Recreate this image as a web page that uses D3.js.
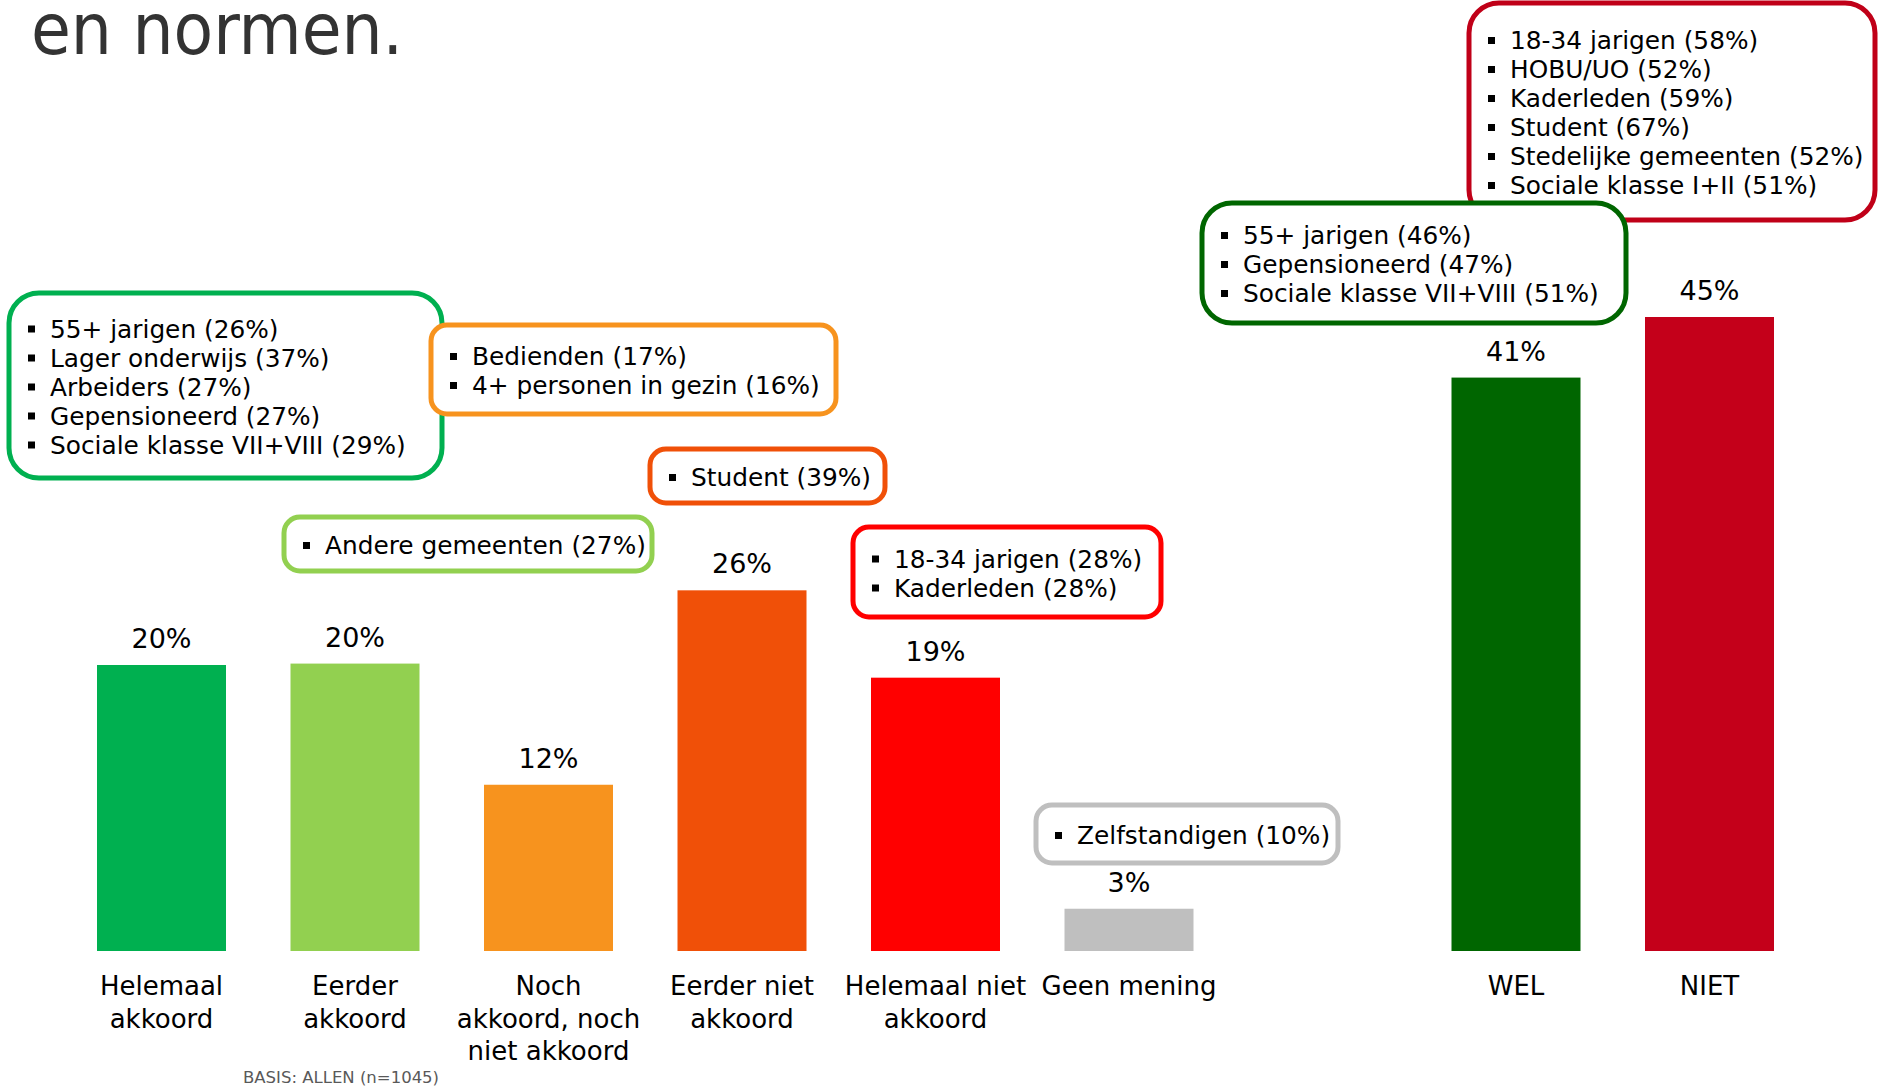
<!DOCTYPE html>
<html>
<head>
<meta charset="utf-8">
<script src="https://cdn.jsdelivr.net/npm/d3@7"></script>
<style>
  body { margin: 0; background: #fff; }
  svg { display: block; font-family: "DejaVu Sans", Verdana, sans-serif; }
</style>
</head>
<body>
<script>
'use strict';

// chart data
const categories = ["Helemaal akkoord", "Eerder akkoord", "Noch akkoord, noch niet akkoord",
  "Eerder niet akkoord", "Helemaal niet akkoord", "Geen mening", "gap", "WEL", "NIET"];
const tickLabels = [["Helemaal", "akkoord"], ["Eerder", "akkoord"], ["Noch", "akkoord, noch", "niet akkoord"],
  ["Eerder niet", "akkoord"], ["Helemaal niet", "akkoord"], ["Geen mening"], [], ["WEL"], ["NIET"]];
const values = [20.3, 20.4, 11.8, 25.6, 19.4, 3.0, null, 40.7, 45.0];
const barColors = ["#00B050", "#92D050", "#F7931E", "#F05008", "#FF0000", "#BFBFBF", "none", "#006600", "#C4001A"];

// callout texts
const calloutHelemaal = ["55+ jarigen (26%)", "Lager onderwijs (37%)", "Arbeiders (27%)", "Gepensioneerd (27%)", "Sociale klasse VII+VIII (29%)"];
const calloutEerder = ["Andere gemeenten (27%)"];
const calloutNoch = ["Bedienden (17%)", "4+ personen in gezin (16%)"];
const calloutEerderNiet = ["Student (39%)"];
const calloutHelemaalNiet = ["18-34 jarigen (28%)", "Kaderleden (28%)"];
const calloutGeen = ["Zelfstandigen (10%)"];
const calloutWel = ["55+ jarigen (46%)", "Gepensioneerd (47%)", "Sociale klasse VII+VIII (51%)"];
const calloutNiet = ["18-34 jarigen (58%)", "HOBU/UO (52%)", "Kaderleden (59%)", "Student (67%)", "Stedelijke gemeenten (52%)", "Sociale klasse I+II (51%)"];

const title = "en normen.";
const basis = "BASIS: ALLEN (n=1045)";

(function () {
  const width = 1878, height = 1088;
  const svg = d3.select('body').append('svg')
    .attr('width', width)
    .attr('height', height);

  // title
  svg.append('text')
    .attr('x', 31)
    .attr('y', 54)
    .style('font-family', '"DejaVu Sans Condensed", "DejaVu Sans", sans-serif')
    .style('font-stretch', 'condensed')
    .style('font-size', '72px')
    .attr('fill', '#333333')
    .text(title);

  // scales
  const x = d3.scaleBand()
    .domain(categories)
    .range([64.75, 1806.25])
    .paddingInner(1 / 3)
    .paddingOuter(1 / 6);

  const y = d3.scaleLinear()
    .domain([0, 45])
    .range([951, 317]);

  const rows = categories.map((c, i) => ({ key: c, value: values[i], color: barColors[i] }))
    .filter(d => d.value !== null);

  // bars
  svg.selectAll('.bar')
    .data(rows)
    .enter()
    .append('rect')
    .attr('class', 'bar')
    .attr('x', d => x(d.key))
    .attr('width', x.bandwidth())
    .attr('y', d => y(d.value))
    .attr('height', d => y(0) - y(d.value))
    .attr('fill', d => d.color);

  // value labels
  svg.selectAll('.val')
    .data(rows)
    .enter()
    .append('text')
    .attr('class', 'val')
    .attr('x', d => x(d.key) + x.bandwidth() / 2)
    .attr('y', d => y(d.value) - 17)
    .attr('text-anchor', 'middle')
    .style('font-size', '27px')
    .attr('fill', '#000')
    .text(d => d3.format('.0f')(d.value) + '%');

  // category axis, multi-line labels
  const xAxis = d3.axisBottom(x).tickSize(0).tickPadding(0).tickFormat('');
  const axisG = svg.append('g')
    .attr('transform', 'translate(0, 951)')
    .call(xAxis);
  axisG.select('.domain').remove();
  axisG.selectAll('.tick text').remove();
  axisG.selectAll('.tick').each(function (d, i) {
    const t = d3.select(this).append('text')
      .attr('text-anchor', 'middle')
      .attr('fill', '#000')
      .style('font-size', '26px')
      .style('font-family', '"DejaVu Sans", Verdana, sans-serif');
    tickLabels[i].forEach((line, j) => {
      t.append('tspan')
        .attr('x', 0)
        .attr('y', 44 + j * 32.5)
        .text(line);
    });
  });

  // callout boxes: [x, y, w, h] with outline colour
  const callouts = [
    { lines: calloutNiet, box: [1469, 3, 406, 217], color: "#C00018" },
    { lines: calloutWel, box: [1202, 203, 424, 120], color: "#006600" },
    { lines: calloutHelemaal, box: [9, 293, 433, 185], color: "#00B050" },
    { lines: calloutNoch, box: [431, 325, 405, 89], color: "#F7931E" },
    { lines: calloutEerderNiet, box: [650, 449, 235, 54], color: "#F05008" },
    { lines: calloutEerder, box: [284, 517, 368, 54], color: "#92D050" },
    { lines: calloutHelemaalNiet, box: [853, 527, 308, 90], color: "#FF0000" },
    { lines: calloutGeen, box: [1036, 805, 302, 58], color: "#BFBFBF" }
  ];
  drawCallouts(callouts);

  function drawCallouts(list) {
    const lineH = 29;
    list.forEach(c => {
      const [bx, by, bw, bh] = c.box;
      const g = svg.append('g');
      g.append('rect')
        .attr('x', bx)
        .attr('y', by)
        .attr('width', bw)
        .attr('height', bh)
        .attr('rx', bh > 100 ? 30 : 16)
        .attr('fill', '#fff')
        .attr('stroke', c.color)
        .attr('stroke-width', 5);
      const first = by + bh / 2 + 10 - (c.lines.length - 1) * lineH / 2;
      c.lines.forEach((line, j) => {
        const base = first + j * lineH;
        g.append('rect')
          .attr('x', bx + 19)
          .attr('y', base - 12)
          .attr('width', 7)
          .attr('height', 7)
          .attr('fill', '#000');
        g.append('text')
          .attr('x', bx + 41)
          .attr('y', base)
          .style('font-size', '24.8px')
          .attr('fill', '#000')
          .text(line);
      });
    });
  }

  // basis footnote
  svg.append('text')
    .attr('x', 243)
    .attr('y', 1083)
    .style('font-size', '16.5px')
    .attr('fill', '#595959')
    .text(basis);
})();
</script>
</body>
</html>
